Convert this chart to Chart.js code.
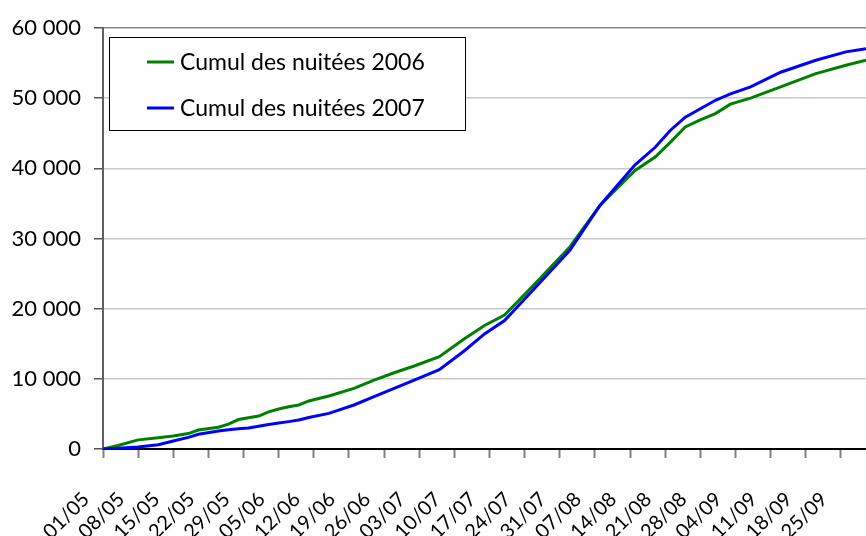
<!DOCTYPE html>
<html>
<head>
<meta charset="utf-8">
<script src="https://cdn.jsdelivr.net/npm/chart.js@4.4.1/dist/chart.umd.min.js"></script>
<style>
  html, body { margin: 0; padding: 0; background: #fff; }
  #wrap { width: 866px; height: 536px; }
</style>
</head>
<body>
<div id="wrap"><canvas id="chart" width="866" height="536"></canvas></div>
<script>
// jour 0 = 01/05, jour 152 = 30/09
var days = [0, 3, 7, 11, 14, 17, 19, 23, 25, 27, 29, 31, 33, 35, 37, 39, 41, 45, 50, 54,
            58, 62, 67, 72, 76, 80, 86, 93, 99, 106, 110, 113, 116, 119, 122, 125, 129, 135, 142, 148, 152];

var nuitees2006 = [0, 500, 1300, 1600, 1850, 2200, 2700, 3100, 3550, 4200, 4450, 4700, 5300, 5700, 6030, 6270, 6850, 7550, 8640, 9830,
                   10870, 11830, 13150, 15700, 17600, 19100, 23500, 28800, 34700, 39700, 41600, 43700, 45900, 46900, 47800, 49150, 50000, 51600, 53500, 54700, 55400];

var nuitees2007 = [0, 100, 300, 600, 1140, 1660, 2090, 2560, 2750, 2900, 3000, 3250, 3500, 3700, 3900, 4130, 4500, 5080, 6270, 7460,
                   8640, 9830, 11300, 14000, 16400, 18300, 22900, 28300, 34700, 40500, 43000, 45400, 47300, 48500, 49700, 50600, 51600, 53700, 55400, 56600, 57050];

var tickDays = [0, 7, 14, 21, 28, 35, 42, 49, 56, 63, 70, 77, 84, 91, 98, 105, 112, 119, 126, 133, 140, 147];
var tickLabels = ["01/05", "08/05", "15/05", "22/05", "29/05", "05/06", "12/06", "19/06", "26/06", "03/07", "10/07",
                  "17/07", "24/07", "31/07", "07/08", "14/08", "21/08", "28/08", "04/09", "11/09", "18/09", "25/09"];

function pts(vals) {
    var out = [];
    for (var i = 0; i < days.length; i++) {
        out.push({x: days[i], y: vals[i]});
    }
    return out;
}

function milliers(v) {
    return v.toString().replace(/\B(?=(\d{3})+(?!\d))/g, " ");
}

// etiquettes de dates inclinees sous l'axe x
var etiquettesX = {
    id: "etiquettesX",
    afterDraw: function (chart) {
        var c = chart.ctx;
        var sx = chart.scales.x;
        c.save();
        c.fillStyle = "#000";
        c.font = "20px Lato";
        c.textAlign = "right";
        c.textBaseline = "middle";
        tickDays.forEach(function (d, i) {
            var px = sx.getPixelForValue(d);
            c.save();
            c.translate(px - 17, sx.top + 47);
            c.rotate(-Math.PI / 4);
            c.fillText(tickLabels[i], 0, 0);
            c.restore();
        });
        c.restore();
    }
};

// legende dans un cadre, en haut a gauche
var legendeCadre = {
    id: "legendeCadre",
    afterDraw: function (chart) {
        var c = chart.ctx;
        c.save();
        c.fillStyle = "#fff";
        c.fillRect(109.5, 37.5, 356, 93);
        c.strokeStyle = "#000";
        c.lineWidth = 1;
        c.strokeRect(109.5, 37.5, 356, 93);
        var ys = [62, 108];
        chart.data.datasets.forEach(function (ds, i) {
            c.strokeStyle = ds.borderColor;
            c.lineWidth = 3;
            c.beginPath();
            c.moveTo(147, ys[i]);
            c.lineTo(174, ys[i]);
            c.stroke();
            c.fillStyle = "#000";
            c.font = "23px Lato";
            c.textBaseline = "middle";
            c.fillText(ds.label, 180, ys[i] + 1);
        });
        c.restore();
    }
};

new Chart(document.getElementById("chart"), {
    type: "line",
    data: {
        datasets: [{
                label: "Cumul des nuitées 2006",
                data: pts(nuitees2006),
                borderColor: "#008000",
                borderWidth: 3,
                pointRadius: 0,
                order: 2
            }, {
                label: "Cumul des nuitées 2007",
                data: pts(nuitees2007),
                borderColor: "#0000ff",
                borderWidth: 3,
                pointRadius: 0,
                order: 1
            }]
    },
    options: {
        responsive: false,
        animation: false,
        layout: {padding: {top: 28, right: 0, left: 0, bottom: 0}},
        plugins: {legend: {display: false}, tooltip: {enabled: false}},
        scales: {
            x: {
                type: "linear",
                min: 0,
                max: 152,
                afterBuildTicks: function (scale) {
                    scale.ticks = tickDays.map(function (d) { return {value: d}; });
                },
                afterFit: function (scale) { scale.height = 87; },
                grid: {drawOnChartArea: false, tickLength: 9, tickColor: "#808080", tickWidth: 2},
                border: {color: "#000", width: 2},
                ticks: {display: false}
            },
            y: {
                min: 0,
                max: 60000,
                afterFit: function (scale) { scale.width = 103; },
                grid: {
                    color: function (ctx) { return ctx.tick && ctx.tick.value === 60000 ? "#888" : "#c8c8c8"; },
                    lineWidth: 1.5,
                    tickLength: 9,
                    tickColor: "#555"
                },
                border: {color: "#606060", width: 2},
                ticks: {
                    stepSize: 10000,
                    padding: 13,
                    color: "#000",
                    font: {family: "Lato", size: 22},
                    callback: function (v) { return milliers(v); }
                }
            }
        }
    },
    plugins: [etiquettesX, legendeCadre]
});
</script>
</body>
</html>
